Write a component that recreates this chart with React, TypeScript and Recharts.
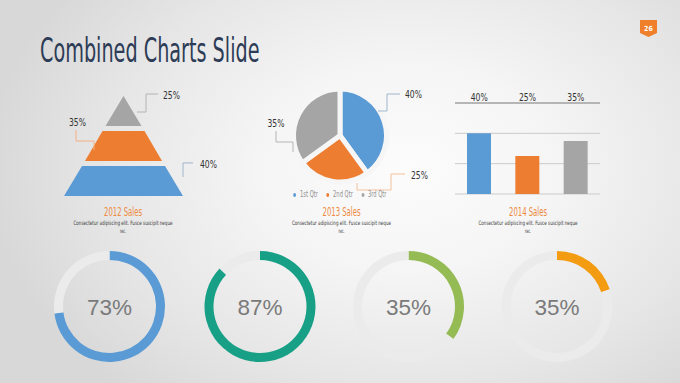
import {
  Bar,
  BarChart,
  CartesianGrid,
  Cell,
  Funnel,
  FunnelChart,
  Legend,
  Pie,
  PieChart,
  XAxis,
  YAxis,
} from "recharts";

const BLUE = "#5b9bd5";
const ORANGE = "#ed7d31";
const GRAY = "#a5a5a5";
const COND = "'DejaVu Sans Condensed', 'Liberation Sans Narrow', sans-serif";

// pyramid, bottom layer first
const pyramidLabels = ["40%", "35%", "25%"];
const pyramidBases = [119, 79, 40];
const pyramidColors = [BLUE, ORANGE, GRAY];

// 2013 pie
const pieQuarters = ["1st Qtr", "2nd Qtr", "3rd Qtr"];
const pieShares = [40, 25, 35];
const pieColors = [BLUE, ORANGE, GRAY];

// 2014 bars
const barQuarters = ["1st Qtr", "2nd Qtr", "3rd Qtr"];
const barShares = [40, 25, 35];
const barColors = [BLUE, ORANGE, GRAY];

// progress rings
const donutValues = [73, 87, 35, 20];
const donutLabels = ["73%", "87%", "35%", "35%"];
const donutColors = ["#5b9bd5", "#17a086", "#95bb55", "#f39c12"];
const TRACK = "#ebebeb";

const captionTitles = ["2012 Sales", "2013 Sales", "2014 Sales"];
const captionText = "Consectetur adipiscing elit. Fusce suscipit neque";
const captionTail = "nec.";

const pyramidRows = pyramidLabels.map((label, i) => ({
  label,
  base: pyramidBases[i],
  fill: pyramidColors[i],
}));
const pieRows = pieQuarters.map((name, i) => ({ name, value: pieShares[i], fill: pieColors[i] }));
const barRows = barQuarters.map((quarter, i) => ({ quarter, share: barShares[i] }));

// callout elbows, relative to the layer centre / row top
const pyramidCallouts = [
  { path: [[59.5, 14.3], [59.5, 0.3], [69.5, 0.3]], text: [76.5, 5], stroke: "#9fb6cc" },
  { path: [[-29.5, 20.7], [-29.5, 11.7], [-47.5, 11.7], [-47.5, 0.7]], text: [-54.5, -3.6], stroke: "#f4b183" },
  { path: [[13.5, 16], [22.5, 16], [22.5, -2], [34.5, -2]], text: [39.5, 3.3], stroke: "#b4b4b4" },
];

// relative to the pie centre
const pieCallouts = [
  { path: [[38, -24.5], [47, -24.5], [47, -41.5], [60, -41.5]], text: [65, -37.2], stroke: "#9fb6cc" },
  { path: [[17, 47.5], [17, 54.5], [51, 54.5], [51, 38.5], [65, 38.5]], text: [71, 43.5], stroke: "#f4c29c" },
  { path: [[-47, 16.5], [-47, 6.5], [-64, 6.5], [-64, -4.5]], text: [-72.5, -9], stroke: "#b5b5b5" },
];

const LAYER_GAP = 5;

function PyramidLayer(props: any) {
  const { x, y, upperWidth, lowerWidth, height, fill } = props;
  const name = props.name ?? props.payload?.label ?? props.label;
  const i = Math.max(0, pyramidLabels.indexOf(name));
  const n = pyramidLabels.length;
  // rows touch each other, shave them so equal layers get a gap
  const spare = (LAYER_GAP * (n - 1)) / n;
  const b = (i * LAYER_GAP) / n;
  const t = spare - b;
  const slope = (lowerWidth - upperWidth) / height;
  const cx = x + upperWidth / 2;
  const topY = y + t;
  const botY = y + height - b;
  const wTop = upperWidth + slope * t;
  const wBot = lowerWidth - slope * b;
  const c = pyramidCallouts[i];
  return (
    <g>
      <polygon
        points={`${cx - wTop / 2},${topY} ${cx + wTop / 2},${topY} ${cx + wBot / 2},${botY} ${cx - wBot / 2},${botY}`}
        fill={fill}
      />
      <polyline
        points={c.path.map(([dx, dy]) => `${cx + dx},${y + dy}`).join(" ")}
        fill="none"
        stroke={c.stroke}
        strokeWidth={1}
      />
      <text
        x={cx + c.text[0]}
        y={y + c.text[1]}
        fontFamily={COND}
        fontSize={11}
        fill="#333"
        textLength={17}
        lengthAdjust="spacingAndGlyphs"
      >
        {name}
      </text>
    </g>
  );
}

function PieCallout(props: any) {
  const { cx, cy, index, value } = props;
  const c = pieCallouts[index];
  return (
    <g>
      <polyline
        points={c.path.map(([dx, dy]) => `${cx + dx},${cy + dy}`).join(" ")}
        fill="none"
        stroke={c.stroke}
        strokeWidth={1}
      />
      <text
        x={cx + c.text[0]}
        y={cy + c.text[1]}
        fontFamily={COND}
        fontSize={11}
        fill="#333"
        textLength={17}
        lengthAdjust="spacingAndGlyphs"
      >
        {`${value}%`}
      </text>
    </g>
  );
}

function PieLegend({ payload }: any) {
  return (
    <div
      style={{
        display: "flex",
        justifyContent: "center",
        gap: 12,
        fontFamily: COND,
        fontSize: 8,
        color: "#8f8f8f",
        transform: "scaleX(0.72)",
        lineHeight: "10px",
      }}
    >
      {(payload || []).map((e: any) => (
        <span key={e.value} style={{ display: "inline-flex", alignItems: "center" }}>
          <span style={{ width: 4, height: 4, borderRadius: 2, background: e.color, marginRight: 5 }} />
          {e.value}
        </span>
      ))}
    </div>
  );
}

function BarTopTick({ x, y, index }: any) {
  return (
    <text
      x={x}
      y={y}
      textAnchor="middle"
      fontFamily={COND}
      fontSize={11}
      fill="#333"
      textLength={17}
      lengthAdjust="spacingAndGlyphs"
    >
      {`${barShares[index]}%`}
    </text>
  );
}

const captionCentres = [123, 341.5, 528];
const donutCentres = [109.5, 260, 408.5, 557];

export default function App() {
  return (
    <div
      style={{
        position: "absolute",
        left: 0,
        top: 0,
        width: 680,
        height: 383,
        overflow: "hidden",
        background:
          "radial-gradient(ellipse 62% 78% at 60% 44%, #fcfcfc 0%, #f5f5f5 35%, #e6e6e6 72%, #d8d8d8 100%)",
      }}
    >
      <style>{`.recharts-surface{overflow:visible}`}</style>

      <svg width={680} height={383} style={{ position: "absolute", left: 0, top: 0 }}>
        <text
          x={40}
          y={62.3}
          fontFamily={COND}
          fontSize={33.5}
          fill="#2d3c56"
          textLength={219.5}
          lengthAdjust="spacingAndGlyphs"
        >
          Combined Charts Slide
        </text>
        <polygon points="640,20 657,20 657,33 648.5,37 640,33" fill="#ef7f2a" />
        <text x={648.5} y={30.5} textAnchor="middle" fontFamily={COND} fontSize={7} fontWeight="bold" fill="#fff">
          26
        </text>
        {captionTitles.map((t, i) => (
          <g key={t}>
            <text
              x={captionCentres[i]}
              y={216.3}
              textAnchor="middle"
              fontFamily={COND}
              fontSize={11.5}
              fill="#ee8a3f"
              textLength={38}
              lengthAdjust="spacingAndGlyphs"
            >
              {t}
            </text>
            <text
              x={captionCentres[i]}
              y={225.3}
              textAnchor="middle"
              fontFamily={COND}
              fontSize={6}
              fill="#3a3a3a"
              textLength={99}
              lengthAdjust="spacingAndGlyphs"
            >
              {captionText}
            </text>
            <text
              x={captionCentres[i]}
              y={232.5}
              textAnchor="middle"
              fontFamily={COND}
              fontSize={6}
              fill="#3a3a3a"
              textLength={6}
              lengthAdjust="spacingAndGlyphs"
            >
              {captionTail}
            </text>
          </g>
        ))}
      </svg>

      <div style={{ position: "absolute", left: 64, top: 96 }}>
        <FunnelChart width={119} height={100} margin={{ top: 0, right: 0, bottom: 0, left: 0 }}>
          <Funnel
            data={pyramidRows}
            dataKey="base"
            nameKey="label"
            reversed
            lastShapeType="triangle"
            stroke="none"
            shape={PyramidLayer}
            isAnimationActive={false}
          >
            {pyramidRows.map((r) => (
              <Cell key={r.label} fill={r.fill} />
            ))}
          </Funnel>
        </FunnelChart>
      </div>

      <div style={{ position: "absolute", left: 260, top: 80 }}>
        <PieChart width={160} height={125} margin={{ top: 0, right: 0, bottom: 5, left: 0 }}>
          <Pie
            data={pieRows}
            dataKey="value"
            nameKey="name"
            cx={80}
            cy={55.5}
            outerRadius={46.5}
            startAngle={90}
            endAngle={-270}
            stroke="#f6f6f6"
            strokeWidth={5}
            label={PieCallout}
            labelLine={false}
            isAnimationActive={false}
          />
          <Legend verticalAlign="bottom" align="center" content={PieLegend} />
        </PieChart>
      </div>

      <div style={{ position: "absolute", left: 440, top: 80 }}>
        <BarChart width={170} height={125} data={barRows} margin={{ top: 0, right: 10, bottom: 11, left: 15 }}>
          <CartesianGrid vertical={false} stroke="#cbcbcb" />
          <XAxis
            dataKey="quarter"
            orientation="top"
            height={23}
            axisLine={{ stroke: "#8c8c8c" }}
            tickLine={false}
            tickSize={0}
            tickMargin={2}
            tick={BarTopTick}
            interval={0}
          />
          <YAxis hide domain={[0, 60]} ticks={[0, 20, 40, 60]} />
          <Bar dataKey="share" barSize={24} isAnimationActive={false}>
            {barRows.map((r, i) => (
              <Cell key={r.quarter} fill={barColors[i]} />
            ))}
          </Bar>
        </BarChart>
      </div>

      <div style={{ position: "absolute", left: 0, top: 240 }}>
        <PieChart width={680} height={140} margin={{ top: 0, right: 0, bottom: 0, left: 0 }}>
          {donutValues.map((v, k) => (
            <Pie
              key={k}
              data={[
                { name: "done", value: v },
                { name: "rest", value: 100 - v },
              ]}
              dataKey="value"
              cx={donutCentres[k]}
              cy={66.5}
              innerRadius={46.5}
              outerRadius={55.5}
              startAngle={90}
              endAngle={-270}
              stroke="none"
              labelLine={false}
              label={(p: any) =>
                p.index === 0 ? (
                  <text
                    x={p.cx}
                    y={p.cy}
                    dy="0.36em"
                    textAnchor="middle"
                    fontFamily="'Liberation Sans', Arial, sans-serif"
                    fontSize={22.5}
                    fill="#7a7a7a"
                  >
                    {donutLabels[k]}
                  </text>
                ) : null
              }
              isAnimationActive={false}
            >
              <Cell fill={donutColors[k]} />
              <Cell fill={TRACK} />
            </Pie>
          ))}
        </PieChart>
      </div>
    </div>
  );
}
